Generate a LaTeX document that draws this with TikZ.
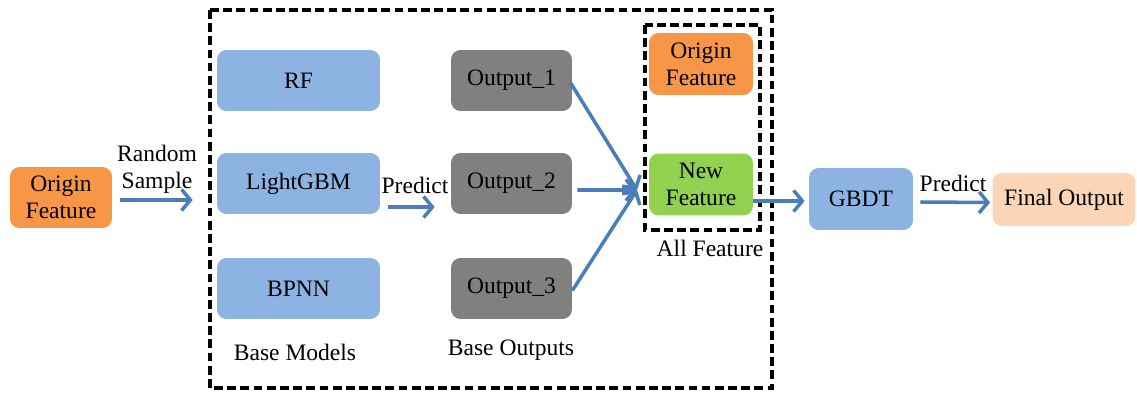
\documentclass[tikz,border=0pt]{standalone}
\usepackage{fontspec}
\setmainfont{Liberation Serif}
\usepackage{tikz}
\usetikzlibrary{arrows.meta,calc,positioning}

\definecolor{boxblue}{RGB}{141,179,226}
\definecolor{boxgray}{RGB}{128,128,128}
\definecolor{boxorange}{RGB}{247,150,70}
\definecolor{boxgreen}{RGB}{146,208,80}
\definecolor{boxpeach}{RGB}{251,213,181}
\definecolor{arrblue}{RGB}{74,126,187}

\begin{document}
\begin{tikzpicture}[x=0.02cm,y=-0.02cm,
  font=\fontsize{13.4}{15.5}\selectfont,
  box/.style={rectangle, rounded corners=5.5pt, inner sep=0pt, align=center, draw=none},
  model/.style={box, fill=boxblue, minimum width=3.26cm, minimum height=1.22cm},
  outbox/.style={box, fill=boxgray, minimum width=2.42cm, minimum height=1.22cm},
  featbox/.style={box, minimum width=2.08cm, minimum height=1.24cm},
  arr/.style={draw=arrblue, line width=2pt, -{Straight Barb[length=5pt,width=12pt]}},
  dashbox/.style={draw=black, line width=2.2pt, dash pattern=on 5pt off 2.5pt}]
\useasboundingbox (0,0) rectangle (1137,395);

\draw[dashbox] (210,10) rectangle (772,388);
\draw[dashbox, line width=1.9pt] (645,25) rectangle (760,230);

\node[featbox, fill=boxorange, minimum width=2.04cm, minimum height=1.22cm] (origin) at (61,197.5){Origin\\Feature};
\node[align=center] (rs) at (157,169){Random\\Sample};

\node[model] (rf) at (298.5,80.5){RF};
\node[model] (lgbm) at (298.5,183.5){LightGBM};
\node[model] (bpnn) at (298.5,288.5){BPNN};
\node (bm) at (295,352){Base Models};

\node (pr1) at (415,185){Predict};

\node[outbox] (out1) at (511.5,80.5){Output\_1};
\node[outbox] (out2) at (511.5,183.5){Output\_2};
\node[outbox] (out3) at (511.5,288.5){Output\_3};
\node (bo) at (511,350){Base Outputs};

\node[featbox, fill=boxorange] (orig2) at (701,64){Origin\\Feature};
\node[featbox, fill=boxgreen] (newf) at (701,184.5){New\\Feature};
\node (af) at (710,248){All Feature};
\coordinate (join) at (637,190);

\node[featbox, fill=boxblue] (gbdt) at (861,199){GBDT};
\node (pr2) at (953,183){Predict};
\node[box, fill=boxpeach, minimum width=2.86cm, minimum height=1.06cm] (final) at (1064,199.5){Final Output};

\draw[arr] ([shift={(8,2.5)}]origin.east) -- ([shift={(-24,16.5)}]lgbm.west);
\draw[arr] ([shift={(8,23.5)}]lgbm.east) -- ([shift={(-16,23.5)}]out2.west);
\draw[arr] ([shift={(-2,2)}]out1.east) -- (join);
\draw[arr] ([shift={(5,6.5)}]out2.east) -- (join);
\draw[arr] ([shift={(0,2)}]out3.east) -- (join);
\draw[arr] ([shift={(0,2)}]newf.east |- gbdt.west) -- ([shift={(-4,2)}]gbdt.west);
\draw[arr] ([shift={(7,3)}]gbdt.east) -- ([shift={(-2,3)}]final.west);
\end{tikzpicture}
\end{document}
